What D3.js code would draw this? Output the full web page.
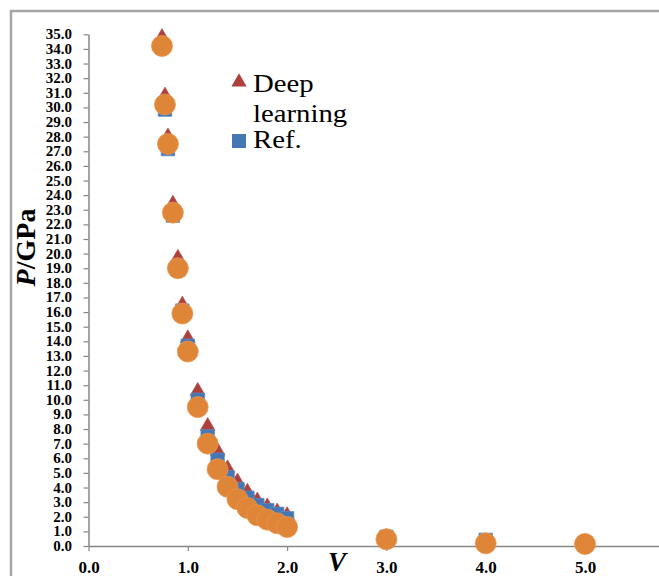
<!DOCTYPE html>
<html>
<head>
<meta charset="utf-8">
<script src="https://cdn.jsdelivr.net/npm/d3@7"></script>
<style>
  html, body { margin: 0; padding: 0; background: #fff; }
  svg { display: block; }
</style>
</head>
<body>
<svg id="chart" width="659" height="576"></svg>
<script>
// ---- data ----
const volumes = [0.74, 0.77, 0.80, 0.85, 0.90, 0.945, 1.0, 1.1, 1.2, 1.3, 1.4, 1.5, 1.6, 1.7, 1.8, 1.9, 2.0, 3.0, 4.0, 5.0];
const deepLearning = [34.8, 30.8, 28.0, 23.4, 19.7, 16.5, 14.2, 10.6, 8.2, 6.5, 5.3, 4.4, 3.7, 3.1, 2.7, 2.35, 2.1, 0.62, 0.3, 0.2];
const reference = [34.2, 29.85, 27.15, 22.6, 18.9, 16.1, 13.7, 10.0, 7.5, 5.9, 4.7, 3.9, 3.3, 2.8, 2.45, 2.2, 1.9, 0.62, 0.42, 0.2];
const thirdSeries = [34.2, 30.2, 27.5, 22.8, 19.0, 15.9, 13.3, 9.5, 7.0, 5.25, 4.05, 3.2, 2.6, 2.1, 1.8, 1.55, 1.3, 0.46, 0.18, 0.14];
const yTicks = d3.range(0, 36, 1);
const xTicks = [0, 1, 2, 3, 4, 5];
const legendLabels = [["Deep", "learning"], ["Ref."]];

const svg = d3.select("#chart");
const serif = "'Liberation Serif', 'Times New Roman', serif";
const axisColor = "#868686";

// outer frame (extends past the window on right/bottom)
svg.append("rect")
  .attr("x", 11).attr("y", 11)
  .attr("width", 700).attr("height", 600)
  .attr("fill", "none").attr("stroke", "#a6a6a6").attr("stroke-width", 2.5);

const x = d3.scaleLinear().domain([0, 6]).range([88.5, 684.3]);
const y = d3.scaleLinear().domain([0, 35]).range([546, 34.3]);

// Y axis
const yAxis = svg.append("g")
  .attr("transform", "translate(88.5,0)")
  .call(d3.axisLeft(y).tickValues(yTicks).tickSize(5).tickSizeOuter(0).tickPadding(4).tickFormat(d3.format(".1f")));
yAxis.select(".domain").attr("stroke", axisColor).attr("stroke-width", 1.5);
yAxis.selectAll(".tick line").attr("stroke", axisColor).attr("stroke-width", 1.2);
yAxis.selectAll(".tick text")
  .attr("x", -16.5).attr("dy", "0.3em")
  .style("font-family", serif).style("font-weight", "bold").style("font-size", "15px").attr("fill", "#000");

// X axis
const xAxis = svg.append("g")
  .attr("transform", "translate(0,546)")
  .call(d3.axisBottom(x).tickValues(xTicks).tickSize(5).tickSizeOuter(0).tickFormat(d3.format(".1f")));
xAxis.select(".domain").attr("stroke", axisColor).attr("stroke-width", 1.5);
xAxis.selectAll(".tick line").attr("stroke", axisColor).attr("stroke-width", 1.2);
xAxis.selectAll(".tick text")
  .attr("y", 27).attr("dy", 0)
  .style("font-family", serif).style("font-weight", "bold").style("font-size", "17px").attr("fill", "#000");

// series
const triSym = d3.symbol().type(d3.symbolTriangle).size(95);
const sqSym = d3.symbol().type(d3.symbolSquare).size(180);

svg.append("g").selectAll("path")
  .data(volumes.map((v, i) => [v, deepLearning[i]]))
  .join("path")
  .attr("d", triSym)
  .attr("transform", d => `translate(${x(d[0])},${y(d[1])})`)
  .attr("fill", "#ab403c").attr("stroke", "#b9504b").attr("stroke-width", 0.8);

svg.append("g").selectAll("path")
  .data(volumes.map((v, i) => [v, reference[i]]))
  .join("path")
  .attr("d", sqSym)
  .attr("transform", d => `translate(${x(d[0])},${y(d[1])})`)
  .attr("fill", "#4677b5").attr("stroke", "#5b8ac4").attr("stroke-width", 0.8);

svg.append("g").selectAll("circle")
  .data(volumes.map((v, i) => [v, thirdSeries[i]]))
  .join("circle")
  .attr("cx", d => x(d[0])).attr("cy", d => y(d[1]))
  .attr("r", 10.5)
  .attr("fill", "#df8538").attr("stroke", "#e8964e").attr("stroke-width", 0.8);

// axis titles
const yt = svg.append("text")
  .attr("transform", "translate(35,247.5) rotate(-90)")
  .attr("text-anchor", "middle")
  .style("font-family", serif).style("font-weight", "bold").style("font-size", "28px");
yt.append("tspan").style("font-style", "italic").text("P");
yt.append("tspan").text("/GPa");

svg.append("text")
  .attr("x", 337).attr("y", 571)
  .attr("text-anchor", "middle")
  .style("font-family", serif).style("font-weight", "bold").style("font-style", "italic").style("font-size", "27px")
  .text("V");

// legend
svg.append("path").attr("d", d3.symbol().type(d3.symbolTriangle).size(100))
  .attr("transform", "translate(239,82)").attr("fill", "#ab403c");
svg.append("path").attr("d", d3.symbol().type(d3.symbolSquare).size(196))
  .attr("transform", "translate(239,141)").attr("fill", "#4677b5");

const legendLines = [
  [legendLabels[0][0], 91.5],
  [legendLabels[0][1], 121.5],
  [legendLabels[1][0], 147.5]
];
svg.append("g").selectAll("text")
  .data(legendLines)
  .join("text")
  .attr("transform", d => `translate(253,${d[1]}) scale(1.15,1)`)
  .style("font-family", serif).style("font-size", "25px").attr("fill", "#000")
  .text(d => d[0]);
</script>
</body>
</html>
